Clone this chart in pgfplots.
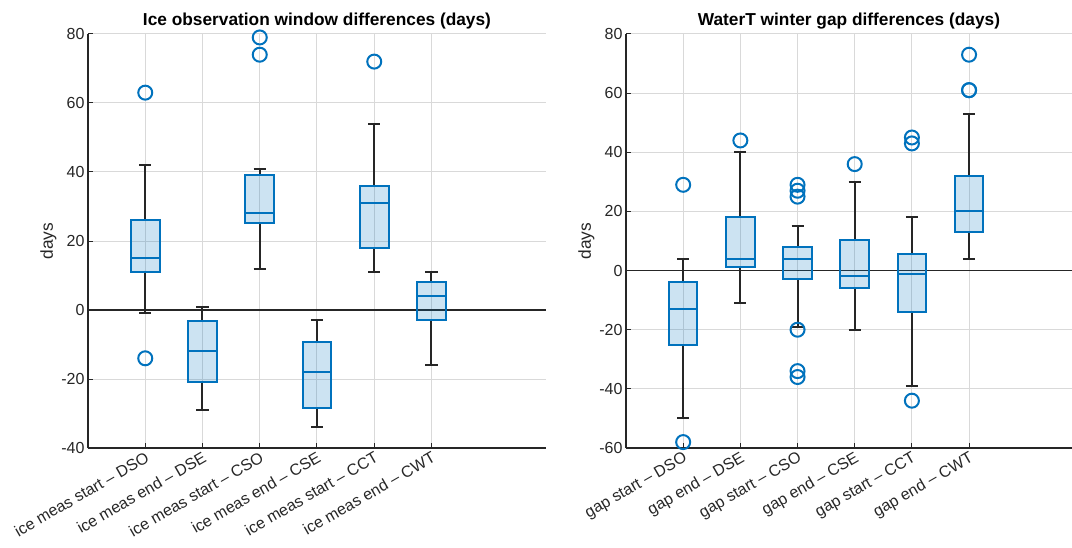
\documentclass[border=0pt]{standalone}
\usepackage{pgfplots}
\pgfplotsset{compat=1.18}
\usepgfplotslibrary{statistics}
\usepackage{fontspec}
\setmainfont{Liberation Sans}
\definecolor{mblue}{rgb}{0,0.447,0.741}
\definecolor{mgray}{rgb}{0.15,0.15,0.15}
\pgfplotsset{
  mybox/.style={
    scale only axis, height=414pt,
    axis x line*=bottom, axis y line*=left,
    xtick={1,...,6},
    xticklabel style={rotate=30, anchor=north east, inner sep=2pt},
    tick label style={font=\fontsize{16}{16}\selectfont, text=mgray},
    /pgf/number format/assume math mode=true,
    grid=major, major grid style={black!15, line width=1pt},
    axis line style={mgray, line width=1.4pt},
    major tick length=5pt, tick style={mgray, line width=1pt},
    tick align=inside,
    extra y ticks={0}, extra y tick labels={},
    extra y tick style={grid=major, major grid style={black!85, line width=1.3pt}, major tick length=0pt},
    title style={font=\bfseries\fontsize{17.3}{17.3}\selectfont, yshift=-5pt},
    ylabel={days}, ylabel style={font=\fontsize{17.3}{17.3}\selectfont, text=mgray, yshift=-2pt},
    boxplot/draw direction=y,
  },
  bx/.style={draw=mblue, mark=o, mark size=7pt, mark options={draw=mblue, line width=2pt, fill=none},
    boxplot/box extend=0.5, boxplot/whisker extend=0.21,
    boxplot/every box/.style={draw=mblue, fill=mblue, fill opacity=0.2, draw opacity=1, line width=2pt},
    boxplot/every whisker/.style={draw=mgray, line width=2pt},
    boxplot/every median/.style={draw=mblue, line width=2pt}},
}
\newcommand{\bxo}[7]{\addplot[bx, boxplot prepared={draw position=#1, lower whisker=#2, lower quartile=#3, median=#4, upper quartile=#5, upper whisker=#6}] table[row sep=\\, y index=0] {data\\ #7};}
\newcommand{\bxn}[6]{\addplot[bx, boxplot prepared={draw position=#1, lower whisker=#2, lower quartile=#3, median=#4, upper quartile=#5, upper whisker=#6}] coordinates {};}
\begin{document}
\begin{tikzpicture}
\begin{axis}[mybox, name=L, width=458pt,
  xmin=0, xmax=8, ymin=-40, ymax=80, ytick={-40,-20,0,20,40,60,80},
  title={Ice observation window differences (days)},
  xticklabels={ice meas start -- DSO, ice meas end -- DSE, ice meas start -- CSO, ice meas end -- CSE, ice meas start -- CCT, ice meas end -- CWT}]
\bxo{1}{-1}{11}{15}{26}{42}{63\\ -14\\}
\bxn{2}{-29}{-20.8}{-12}{-3.3}{1}
\bxo{3}{12}{25.3}{28}{39}{41}{79\\ 74\\}
\bxn{4}{-34}{-28.3}{-18}{-9.3}{-3}
\bxo{5}{11}{18}{31}{36}{54}{72\\}
\bxn{6}{-16}{-3}{4}{8}{11}
\end{axis}
\begin{axis}[mybox, at={(538pt,0pt)}, width=446pt,
  xmin=0, xmax=7.8, ymin=-60, ymax=80, ytick={-60,-40,-20,0,20,40,60,80},
  title={WaterT winter gap differences (days)},
  xticklabels={gap start -- DSO, gap end -- DSE, gap start -- CSO, gap end -- CSE, gap start -- CCT, gap end -- CWT}]
\bxo{1}{-50}{-25}{-13}{-4}{4}{29\\ -58\\}
\bxo{2}{-11}{1.2}{4}{18}{40}{44\\}
\bxo{3}{-19}{-3}{4}{8}{15}{29\\ 27\\ 25\\ -20\\ -34\\ -36\\}
\bxo{4}{-20}{-6}{-2}{10.5}{30}{36\\}
\bxo{5}{-39}{-14}{-1}{5.5}{18}{45\\ 43\\ -44\\}
\bxo{6}{4}{13}{20}{32}{53}{73\\ 61\\ 61\\}
\end{axis}
\pgfresetboundingbox
\path[use as bounding box] (-88pt,-99pt) rectangle (984pt,448pt);
\end{tikzpicture}
\end{document}
